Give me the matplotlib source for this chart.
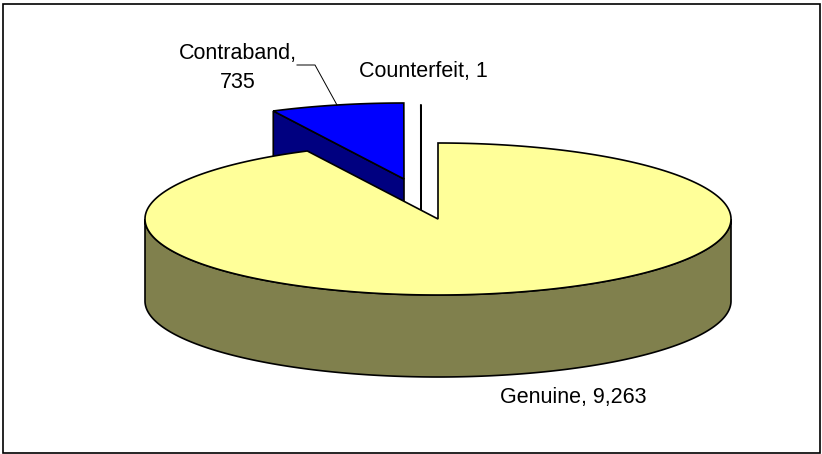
import numpy as np
import matplotlib
matplotlib.use('Agg')
import matplotlib.pyplot as plt
from matplotlib.patches import Polygon, Rectangle

plt.rcParams['font.family'] = ['Liberation Sans', 'DejaVu Sans']

labels = ['Genuine', 'Contraband', 'Counterfeit']
values = [9263, 735, 1]

top_colors = ['#FFFF99', '#0000FF', '#FFFFFF']
side_colors = ['#80804D', '#000080', '#FFFFFF']

# pie geometry, in picture pixels
cx, cy = 438, 219
rx, ry = 293, 76
depth = 82
shift = {'Genuine': (0, 0), 'Counterfeit': (-17, -38), 'Contraband': (-34, -40)}
edge = '#000000'
lw = 1.2


def xy(deg, ox, oy):
	a = np.radians(deg)
	return ox + rx*np.sin(a), oy - ry*np.cos(a)


def arc(a0, a1, ox, oy):
	t = np.linspace(a0, a1, max(2, int(abs(a1-a0)*2)))
	x, y = xy(t, ox, oy)
	return np.column_stack([x, y])


def draw_slice(ax, a0, a1, ox, oy, top, side, z):
	centre = np.array([ox, oy])
	drop = np.array([0, depth])

	# outer wall, only the part turned to the viewer
	lo, hi = max(a0, 90), min(a1, 270)
	if lo < hi:
		rim = arc(lo, hi, ox, oy)
		ax.add_patch(Polygon(np.vstack([rim, (rim+drop)[::-1]]), fc=side, ec=edge, lw=lw, zorder=z))

	# cut face on the start side, seen only for slices in the back left
	if a0 >= 180:
		p0 = np.array(xy(a0, ox, oy))
		ax.add_patch(Polygon([p0, centre, centre+drop, p0+drop], fc=side, ec=edge, lw=lw, zorder=z))

	ax.add_patch(Polygon(np.vstack([centre, arc(a0, a1, ox, oy)]), fc=top, ec=edge, lw=lw, zorder=z+0.5, joinstyle='miter'))


fig = plt.figure(figsize=(8.22, 4.54), dpi=100)
ax = fig.add_axes([0, 0, 1, 1])
ax.set_xlim(0, 822)
ax.set_ylim(454, 0)
ax.axis('off')

ax.add_patch(Rectangle((3, 3.5), 817, 449, fc='white', ec='black', lw=1.2, zorder=0))

total = sum(values)
start = 0
angles = {}
for name, v in zip(labels, values):
	angles[name] = (start, start + v/total*360)
	start += v/total*360

# back slices first, the big one goes over them
order = ['Contraband', 'Counterfeit', 'Genuine']
for i, name in enumerate(order):
	k = labels.index(name)
	a0, a1 = angles[name]
	ox = cx + shift[name][0]
	oy = cy + shift[name][1]
	draw_slice(ax, a0, a1, ox, oy, top_colors[k], side_colors[k], 2+i)

ax.plot([297, 315, 337], [65, 65, 105], color='black', lw=0.7, zorder=8)

fs = 15.5
ax.text(238, 68, 'Contraband,\n735', ha='center', va='center', fontsize=fs, linespacing=1.55, zorder=9)
ax.text(423, 71, 'Counterfeit, 1', ha='center', va='center', fontsize=fs, zorder=9)
ax.text(573.5, 398, 'Genuine, 9,263', ha='center', va='center', fontsize=fs, zorder=9)

fig.savefig('out.png', dpi=100)
